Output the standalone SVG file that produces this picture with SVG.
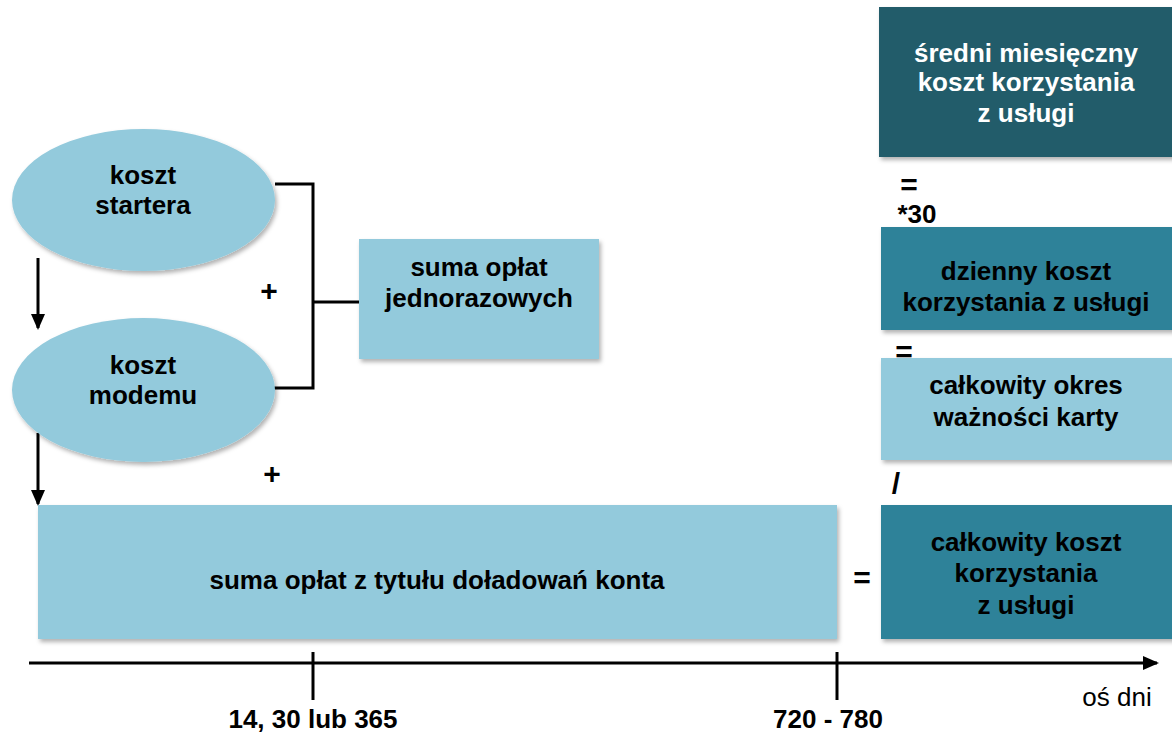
<svg xmlns="http://www.w3.org/2000/svg" width="1172" height="734" viewBox="0 0 1172 734">
<style>
  text { font-family: "Liberation Sans", Arial, sans-serif; font-weight: bold; font-size: 26px; text-anchor: middle; fill: #000; }
  .light { fill: #93cadc; }
  .mid { fill: #2f8299; }
  .dark { fill: #235b6a; }
  .white { fill: #fff; }
  .line { stroke: #000; stroke-width: 3; fill: none; }
  .op { font-size: 30px; }
</style>
<defs>
  <filter id="sh" x="-10%" y="-10%" width="130%" height="130%">
    <feDropShadow dx="2" dy="3" stdDeviation="2" flood-color="#000" flood-opacity="0.3"/>
  </filter>
  <marker id="ahx" markerWidth="16" markerHeight="14" refX="14" refY="7" orient="auto" markerUnits="userSpaceOnUse" viewBox="0 0 16 14">
    <path d="M0,0 L16,7 L0,14 z" fill="#000"/>
  </marker>
</defs>

<g id="connectors">
  <path class="line" d="M275,184 H313 V388 H273"/>
  <path class="line" d="M313,302 H359"/>
  <line class="line" x1="38" y1="258" x2="38" y2="328" marker-end="url(#ahx)"/>
  <line class="line" x1="38" y1="433" x2="38" y2="504" marker-end="url(#ahx)"/>
  <line class="line" x1="29" y1="663" x2="1157" y2="663" marker-end="url(#ahx)"/>
  <line class="line" x1="313" y1="652" x2="313" y2="700"/>
  <line class="line" x1="837" y1="652" x2="837" y2="700"/>
</g>

<g id="node-starter">
  <ellipse class="light" cx="143.5" cy="200" rx="131.5" ry="71" filter="url(#sh)"/>
  <text x="143" y="184">koszt</text>
  <text x="143" y="214">startera</text>
</g>

<g id="node-modem">
  <ellipse class="light" cx="143.5" cy="390" rx="131.5" ry="72" filter="url(#sh)"/>
  <text x="143" y="374">koszt</text>
  <text x="143" y="404">modemu</text>
</g>

<g id="node-jednorazowe">
  <rect class="light" x="359" y="239" width="240" height="120" filter="url(#sh)"/>
  <text x="479" y="276">suma opłat</text>
  <text x="479" y="307">jednorazowych</text>
</g>

<g id="node-doladowania">
  <rect class="light" x="38" y="505" width="799" height="134" filter="url(#sh)"/>
  <text x="437" y="589">suma opłat z tytułu doładowań konta</text>
</g>

<g id="node-sredni">
  <rect class="dark" x="879" y="7" width="300" height="150" filter="url(#sh)"/>
  <text class="white" x="1026" y="62">średni miesięczny</text>
  <text class="white" x="1026" y="91">koszt korzystania</text>
  <text class="white" x="1026" y="122">z usługi</text>
</g>

<g id="node-dzienny">
  <rect class="mid" x="881" y="227" width="300" height="103" filter="url(#sh)"/>
  <text x="1026" y="280">dzienny koszt</text>
  <text x="1026" y="311">korzystania z usługi</text>
</g>

<g id="node-okres">
  <rect class="light" x="881" y="358" width="300" height="102" filter="url(#sh)"/>
  <text x="1026" y="394">całkowity okres</text>
  <text x="1026" y="426">ważności karty</text>
</g>

<g id="node-calkowity">
  <rect class="mid" x="881" y="505" width="300" height="134" filter="url(#sh)"/>
  <text x="1026" y="551">całkowity koszt</text>
  <text x="1026" y="582">korzystania</text>
  <text x="1026" y="614">z usługi</text>
</g>

<g id="operators">
  <text class="op" x="269" y="301">+</text>
  <text class="op" x="272" y="484">+</text>
  <text class="op" x="909" y="195">=</text>
  <text x="917" y="223">*30</text>
  <text class="op" x="904" y="362">=</text>
  <text class="op" x="896" y="494">/</text>
  <text class="op" x="862" y="588">=</text>
</g>

<g id="axis-labels">
  <text x="313" y="728">14, 30 lub 365</text>
  <text x="828" y="728">720 - 780</text>
  <text x="1117" y="706" style="font-weight:normal">oś dni</text>
</g>
</svg>
